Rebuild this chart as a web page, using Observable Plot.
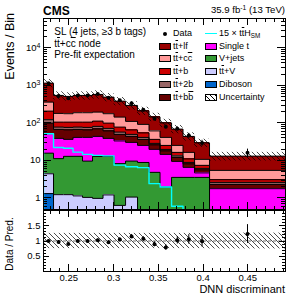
<!DOCTYPE html>
<html><head><meta charset="utf-8">
<script src="https://cdn.jsdelivr.net/npm/d3@7"></script>
<script src="https://cdn.jsdelivr.net/npm/@observablehq/plot@0.6"></script>
<style>
body{margin:0;background:#fff;font-family:"Liberation Sans",Arial,Helvetica,sans-serif;}
#wrap{position:relative;width:291px;height:300px;overflow:hidden;background:#fff;}
#wrap svg{position:absolute;left:0;}
.t{position:absolute;white-space:nowrap;line-height:1;color:#000;font-family:"Liberation Sans",Arial,sans-serif;}
.ov{text-decoration:overline;}
.sup{position:relative;top:-0.45em;font-size:0.7em;line-height:0;}
.sub{position:relative;top:0.3em;font-size:0.7em;line-height:0;}
.sw{position:absolute;box-sizing:border-box;border:1px solid #000;}
</style></head><body>
<svg width="0" height="0" style="position:absolute"><defs>
<pattern id="hatch" patternUnits="userSpaceOnUse" width="5" height="5">
<path d="M-1,-1 L6,6 M-1,4 L1,6 M4,-1 L6,1" stroke="#000" stroke-width="0.7" fill="none"/>
</pattern></defs></svg>
<div id="wrap"></div>
<script>
// ---- data ----
const edges = [0.2217,0.2329,0.2441,0.2547,0.2653,0.2765,0.2882,0.3005,0.3134,0.3268,0.3396,0.3519,0.3648,0.3776,0.3905,0.4072,0.4921];
const diboson = [1.3,0.05,0.05,0.05,0.05,0.05,0.05,0.05,0.05,0,0,0,0,0,0,0];
const ttV     = [3.1,1.17,1.17,1.08,0.98,0.92,1.15,0.58,1.0,0.3,0.3,0.3,0.3,0.3,0.3,0.1];
const vjets   = [11.2,9.9,11.6,11.7,8.55,11.8,11.6,7.54,8.53,8.5,4.5,1.64,3.22,3.22,3.22,0.1];
const singleT = [35.9,27.5,23.5,28.2,31.5,30.9,25.8,24.9,20.6,16.3,14.9,12.5,5.88,2.99,1.12,1.56];
const ttbb    = [47.3,28.5,28.8,26.1,24.0,25.6,22.6,16.3,13.5,11.2,6.25,3.47,2.62,1.56,0.94,0.53];
const tt2b    = [22.9,10.2,10.8,10.2,10.8,11.5,10.2,7.5,5.7,4.75,2.5,1.73,1.16,0.77,0.54,0.30];
const ttb     = [84.7,27.7,29.1,27.7,29.1,31.0,27.4,20.5,15.8,13.1,7.9,5.45,3.17,2.12,1.26,0.47];
const ttcc    = [152,74.2,71,82.1,82.1,82.4,77.2,65.5,44.5,37.1,24.9,15.95,8.75,5.39,3.27,2.35];
const ttlf    = [792,362,333,354,354,381,311,238,183,118,83.3,59,43.3,27.3,18.7,7.6];
const dataCounts = [1151,525,458,541,541,587,468,400,337,224,129,79,70,46,29,16];
const ttH15   = [51.5,22,21,16.6,14.5,13.6,13.2,7.5,6.8,6.4,2.4,1.95,0.6,0.3,0.2,0.1];
const relUnc  = [0.25,0.25,0.25,0.25,0.25,0.25,0.25,0.25,0.25,0.25,0.25,0.25,0.25,0.25,0.25,0.26];
const xTickLabels = [0.25,0.3,0.35,0.4,0.45];
const yTickUpper = [1,10,100,1000,10000];
const yTickRatio = [0.5,1,1.5];

const colors = {lf:"#990000",cc:"#ff9999",b:"#cc0000",b2:"#996666",bb:"#660000",st:"#ff00ff",vj:"#339933",ttv:"#ccccff",db:"#0066cc",tth:"#00ffff"};
const layers = [
  {name:"Diboson", vals:diboson, color:colors.db},
  {name:"ttV", vals:ttV, color:colors.ttv},
  {name:"Vjets", vals:vjets, color:colors.vj},
  {name:"SingleT", vals:singleT, color:colors.st},
  {name:"ttbb", vals:ttbb, color:colors.bb},
  {name:"tt2b", vals:tt2b, color:colors.b2},
  {name:"ttb", vals:ttb, color:colors.b},
  {name:"ttcc", vals:ttcc, color:colors.cc},
  {name:"ttlf", vals:ttlf, color:colors.lf}
];

const YMIN = 0.49, YMAX = 61000, FLOOR = 0.05;
const nb = edges.length - 1;
const cum = new Array(nb).fill(0);
const rects = [], outline = [];
for (const L of layers) {
  L.vals.forEach((v, i) => {
    const lo = cum[i], hi = cum[i] + v;
    rects.push({x1: edges[i], x2: edges[i+1], y1: Math.max(lo, FLOOR), y2: Math.max(hi, FLOOR), fill: L.color});
    cum[i] = hi;
  });
  cum.forEach((c, i) => {
    outline.push({name: L.name, x: edges[i], y: Math.max(c, FLOOR)});
    outline.push({name: L.name, x: edges[i+1], y: Math.max(c, FLOOR)});
  });
}
const total = cum.slice();
const bins = total.map((t, i) => {
  const n = dataCounts[i];
  return {x1: edges[i], x2: edges[i+1], xc: (edges[i] + edges[i+1]) / 2, total: t, n,
    lo: n - Math.sqrt(n), hi: n + Math.sqrt(n),
    ulo: t * (1 - relUnc[i]), uhi: t * (1 + relUnc[i]),
    r: n / t, rlo: (n - Math.sqrt(n)) / t, rhi: (n + Math.sqrt(n)) / t,
    rulo: 1 - relUnc[i], ruhi: 1 + relUnc[i]};
});
const tthLine = [{x: edges[0], y: FLOOR}];
ttH15.forEach((v, i) => { tthLine.push({x: edges[i], y: Math.max(v, FLOOR)}); tthLine.push({x: edges[i+1], y: Math.max(v, FLOOR)}); });

// ---- tick helpers ----
const xMajor = [0.25,0.3,0.35,0.4,0.45];
const xMinor = d3.range(23, 50).map(k => k / 100).filter(v => !xMajor.some(m => Math.abs(m - v) < 1e-6));
const yMinorLog = [];
for (const dec of [0.1,1,10,100,1000,10000]) for (let k = 2; k <= 9; k++) { const v = dec * k; if (v > YMIN && v < YMAX) yMinorLog.push(v); }
const yMinorRatio = d3.range(1, 20).map(k => k / 10).filter(v => !yTickRatio.some(m => Math.abs(m - v) < 1e-6));

function ticks(fw, fh, xMaj, xMin, yMaj, yMin, xl, xs, yl, ys) {
  const o = {stroke: "black", strokeWidth: 1, shapeRendering: "crispEdges"};
  return [
    Plot.ruleX(xMaj, {x: d => d, insetTop: fh - xl, ...o}),
    Plot.ruleX(xMaj, {x: d => d, insetBottom: fh - xl, ...o}),
    Plot.ruleX(xMin, {x: d => d, insetTop: fh - xs, ...o}),
    Plot.ruleX(xMin, {x: d => d, insetBottom: fh - xs, ...o}),
    Plot.ruleY(yMaj, {y: d => d, insetRight: fw - yl, ...o}),
    Plot.ruleY(yMaj, {y: d => d, insetLeft: fw - yl, ...o}),
    Plot.ruleY(yMin, {y: d => d, insetRight: fw - ys, ...o}),
    Plot.ruleY(yMin, {y: d => d, insetLeft: fw - ys, ...o})
  ];
}

const W = 291, ML = 43, MR = 6;
const FW = W - ML - MR;
const font = "Liberation Sans, Arial, Helvetica, sans-serif";
const style = {background: "transparent", fontFamily: font, fontSize: "9.5px", color: "black", overflow: "visible"};

// ---- upper panel ----
const UH = 210, UMT = 18, UMB = 1;
const upper = Plot.plot({
  width: W, height: UH, marginLeft: ML, marginRight: MR, marginTop: UMT, marginBottom: UMB,
  x: {domain: [edges[0], edges[nb]], axis: null},
  y: {type: "log", domain: [YMIN, YMAX]},
  color: {type: "identity"},
  style,
  marks: [
    Plot.rect(rects, {x1: "x1", x2: "x2", y1: "y1", y2: "y2", fill: "fill", clip: true, shapeRendering: "crispEdges"}),
    Plot.rect(bins, {x1: "x1", x2: "x2", y1: "ulo", y2: "uhi", fill: "url(#hatch)", clip: true}),
    Plot.line(outline, {x: "x", y: "y", z: "name", stroke: "black", strokeWidth: 1, clip: true}),
    Plot.line(tthLine, {x: "x", y: "y", stroke: colors.tth, strokeWidth: 1.4, clip: true}),
    Plot.ruleX(bins, {x: "xc", y1: "lo", y2: "hi", stroke: "black", strokeWidth: 1, clip: true}),
    Plot.dot(bins, {x: "xc", y: "n", r: 2, fill: "black", stroke: "none", clip: true}),
    ...ticks(FW, UH - UMT - UMB, xMajor, xMinor, yTickUpper, yMinorLog, 7, 3.5, 8, 4),
    Plot.frame({stroke: "black", strokeWidth: 1}),
    Plot.axisY({ticks: yTickUpper, tickSize: 0, tickPadding: 3, fontSize: 9.5,
      tickFormat: d => d === 1 ? "1" : d === 10 ? "10" : "10^" + Math.round(Math.log10(d))})
  ]
});
upper.style.top = "0px";
upper.querySelectorAll('g[aria-label="y-axis tick label"] text').forEach(t => {
  const s = t.textContent;
  if (s.includes("^")) {
    const [b, e] = s.split("^");
    t.textContent = b;
    const ts = document.createElementNS("http://www.w3.org/2000/svg", "tspan");
    ts.setAttribute("dy", "-0.45em"); ts.setAttribute("font-size", "7");
    ts.textContent = e; t.appendChild(ts);
  }
});

// ---- ratio panel ----
const LH = 92, LMT = 1, LMB = 30;
const lower = Plot.plot({
  width: W, height: LH, marginLeft: ML, marginRight: MR, marginTop: LMT, marginBottom: LMB,
  x: {domain: [edges[0], edges[nb]]},
  y: {domain: [0, 2]},
  style,
  marks: [
    Plot.rect(bins, {x1: "x1", x2: "x2", y1: "rulo", y2: "ruhi", fill: "url(#hatch)", clip: true}),
    Plot.ruleY([1], {stroke: "#444", strokeWidth: 0.8, strokeDasharray: "3,2"}),
    Plot.ruleX(bins, {x: "xc", y1: "rlo", y2: "rhi", stroke: "#000", strokeWidth: 1, clip: true}),
    Plot.dot(bins, {x: "xc", y: "r", r: 2, fill: "black", stroke: "none", clip: true}),
    ...ticks(FW, LH - LMT - LMB, xMajor, xMinor, yTickRatio, yMinorRatio, 7, 3.5, 6, 3),
    Plot.frame({stroke: "black", strokeWidth: 1}),
    Plot.axisX({ticks: xTickLabels, tickSize: 0, tickPadding: 3, fontSize: 9.5, tickFormat: d => String(d)}),
    Plot.axisY({ticks: yTickRatio, tickSize: 0, tickPadding: 3, fontSize: 9.5, tickFormat: d => String(d)})
  ]
});
lower.style.top = "209px";

const wrap = document.getElementById("wrap");
wrap.appendChild(upper);
wrap.appendChild(lower);

// ---- text overlays ----
const ASC = 0.8465;
function label(html, x, base, size, anchor = "start", weight = "normal") {
  const d = document.createElement("div");
  d.className = "t";
  d.style.fontSize = size + "px";
  d.style.fontWeight = weight;
  d.style.top = (base - ASC * size) + "px";
  if (anchor === "end") d.style.right = (W - x) + "px"; else d.style.left = x + "px";
  d.innerHTML = html;
  wrap.appendChild(d);
}
function vlabel(html, x, y, size, align) {
  const d = document.createElement("div");
  d.className = "t";
  d.style.fontSize = size + "px";
  d.style.left = (x - ASC * size) + "px";
  d.style.top = y + "px";
  d.style.transformOrigin = "0 0";
  d.style.transform = "rotate(-90deg) translateX(" + (align === "end" ? "-100%" : "-50%") + ")";
  d.innerHTML = html;
  wrap.appendChild(d);
}
const tt = 't<span class="ov">t</span>';
label("CMS", 43, 15, 12, "start", "bold");
label('35.9 fb<span class="sup">-1</span> (13 TeV)', 285, 12.7, 9.6, "end");
label("SL (4 jets, \u22653 b tags)", 54.3, 35, 10);
label(tt + '+c<span class="ov">c</span> node', 54.3, 47, 10);
label("Pre-fit expectation", 54.3, 58.7, 10);
vlabel("Events / Bin", 14.5, 13.3, 12.5, "end");
vlabel("Data / Pred.", 13.5, 244, 10, "middle");
label("DNN discriminant", 285, 293.8, 11, "end");

// legend
const rows = [33.5, 46.2, 58.9, 71.6, 84.3, 97];
const col1 = [
  {kind: "dot", text: "Data"},
  {kind: "box", color: colors.lf, text: tt + "+lf"},
  {kind: "box", color: colors.cc, text: tt + '+c<span class="ov">c</span>'},
  {kind: "box", color: colors.b, text: tt + "+b"},
  {kind: "box", color: colors.b2, text: tt + "+2b"},
  {kind: "box", color: colors.bb, text: tt + '+b<span class="ov">b</span>'}
];
const col2 = [
  {kind: "line", color: colors.tth, text: "15 \u00d7 " + tt + 'H<span class="sub">SM</span>'},
  {kind: "box", color: colors.st, text: "Single t"},
  {kind: "box", color: colors.vj, text: "V+jets"},
  {kind: "box", color: colors.ttv, text: tt + "+V"},
  {kind: "box", color: colors.db, text: "Diboson"},
  {kind: "hatch", text: "Uncertainty"}
];
function legendCol(entries, bx, tx) {
  entries.forEach((e, i) => {
    const cy = rows[i];
    const s = document.createElement("div");
    s.style.position = "absolute";
    if (e.kind === "box" || e.kind === "hatch") {
      s.className = "sw";
      s.style.left = bx + "px"; s.style.top = (cy - 3.5) + "px";
      s.style.width = "11.7px"; s.style.height = "7px";
      s.style.background = e.kind === "box" ? e.color :
        "repeating-linear-gradient(45deg, #fff 0 2.6px, #000 2.6px 3.3px)";
    } else if (e.kind === "dot") {
      s.style.left = (bx + 4) + "px"; s.style.top = (cy - 2) + "px";
      s.style.width = "4px"; s.style.height = "4px"; s.style.borderRadius = "50%"; s.style.background = "#000";
    } else {
      s.style.left = bx + "px"; s.style.top = (cy - 0.7) + "px";
      s.style.width = "12px"; s.style.height = "1.4px"; s.style.background = e.color;
    }
    wrap.appendChild(s);
    label(e.text, tx, cy + 3.2, 9);
  });
}
legendCol(col1, 159.3, 173);
legendCol(col2, 205, 219);
</script>
</body></html>
